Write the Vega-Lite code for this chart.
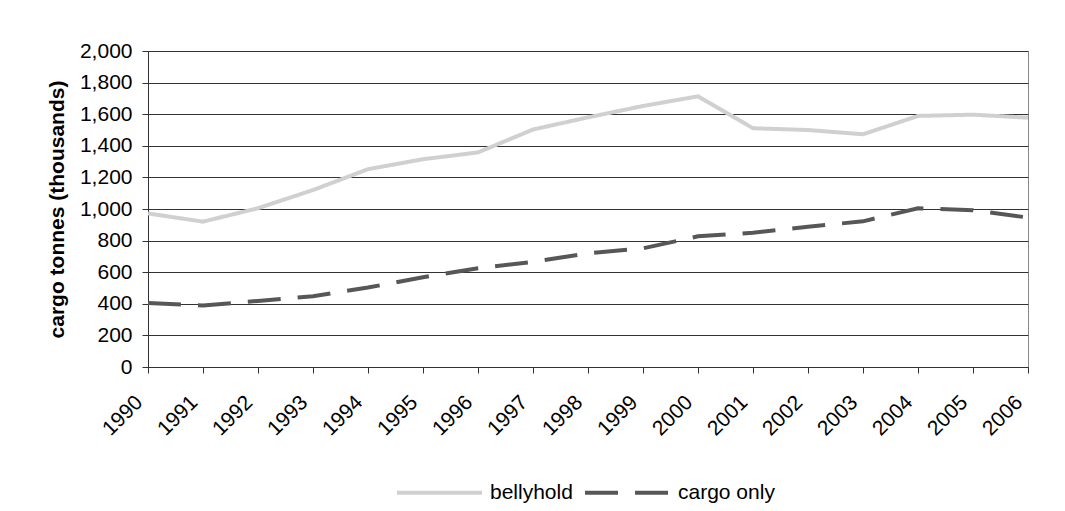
{
  "$schema": "https://vega.github.io/schema/vega-lite/v6.json",
  "width": 880,
  "height": 316,
  "autosize": "none",
  "padding": {"left": 148, "top": 51, "right": 37, "bottom": 144},
  "background": "white",
  "config": {
    "font": "Liberation Sans",
    "view": {"stroke": "#888888", "strokeWidth": 1},
    "axis": {
      "labelFont": "Liberation Sans",
      "titleFont": "Liberation Sans",
      "labelColor": "black",
      "titleColor": "black",
      "domainColor": "#333333",
      "tickColor": "#333333"
    }
  },
  "data": {
    "values": [
      {"year": "1990", "series": "bellyhold", "value": 972},
      {"year": "1991", "series": "bellyhold", "value": 920},
      {"year": "1992", "series": "bellyhold", "value": 1005},
      {"year": "1993", "series": "bellyhold", "value": 1120},
      {"year": "1994", "series": "bellyhold", "value": 1252},
      {"year": "1995", "series": "bellyhold", "value": 1315},
      {"year": "1996", "series": "bellyhold", "value": 1358},
      {"year": "1997", "series": "bellyhold", "value": 1503},
      {"year": "1998", "series": "bellyhold", "value": 1580},
      {"year": "1999", "series": "bellyhold", "value": 1652},
      {"year": "2000", "series": "bellyhold", "value": 1713},
      {"year": "2001", "series": "bellyhold", "value": 1511},
      {"year": "2002", "series": "bellyhold", "value": 1500},
      {"year": "2003", "series": "bellyhold", "value": 1473},
      {"year": "2004", "series": "bellyhold", "value": 1589},
      {"year": "2005", "series": "bellyhold", "value": 1597},
      {"year": "2006", "series": "bellyhold", "value": 1578},
      {"year": "1990", "series": "cargo only", "value": 405},
      {"year": "1991", "series": "cargo only", "value": 390},
      {"year": "1992", "series": "cargo only", "value": 418},
      {"year": "1993", "series": "cargo only", "value": 448},
      {"year": "1994", "series": "cargo only", "value": 503},
      {"year": "1995", "series": "cargo only", "value": 568},
      {"year": "1996", "series": "cargo only", "value": 625},
      {"year": "1997", "series": "cargo only", "value": 665},
      {"year": "1998", "series": "cargo only", "value": 720},
      {"year": "1999", "series": "cargo only", "value": 751},
      {"year": "2000", "series": "cargo only", "value": 827},
      {"year": "2001", "series": "cargo only", "value": 850},
      {"year": "2002", "series": "cargo only", "value": 888},
      {"year": "2003", "series": "cargo only", "value": 922},
      {"year": "2004", "series": "cargo only", "value": 1005},
      {"year": "2005", "series": "cargo only", "value": 992},
      {"year": "2006", "series": "cargo only", "value": 946}
    ]
  },
  "mark": {"type": "line", "strokeWidth": 4, "strokeCap": "butt"},
  "encoding": {
    "x": {
      "field": "year",
      "type": "ordinal",
      "scale": {"padding": 0},
      "axis": {
        "title": null,
        "labelAngle": -45,
        "labelAlign": "right",
        "labelBaseline": "middle",
        "labelFontSize": 21,
        "labelPadding": 26,
        "labelOffset": -9,
        "tickSize": 6,
        "grid": false
      }
    },
    "y": {
      "field": "value",
      "type": "quantitative",
      "scale": {"domain": [0, 2000]},
      "axis": {
        "title": "cargo tonnes (thousands)",
        "titleFontSize": 21,
        "titleFontWeight": "bold",
        "titlePadding": 12,
        "values": [0, 200, 400, 600, 800, 1000, 1200, 1400, 1600, 1800, 2000],
        "format": ",d",
        "labelFontSize": 21,
        "labelPadding": 10,
        "tickSize": 6,
        "gridColor": "#333333",
        "gridOpacity": 1
      }
    },
    "color": {
      "field": "series",
      "type": "nominal",
      "scale": {"domain": ["bellyhold", "cargo only"], "range": ["#d0d0d0", "#575757"]},
      "legend": {
        "title": null,
        "orient": "none",
        "legendX": 247,
        "legendY": 397,
        "direction": "horizontal",
        "labelFontSize": 21,
        "labelFont": "Liberation Sans",
        "labelColor": "black",
        "symbolType": "stroke",
        "symbolSize": 7225,
        "symbolStrokeWidth": 4,
        "labelOffset": 6,
        "columnPadding": 4
      }
    },
    "strokeDash": {
      "field": "series",
      "type": "nominal",
      "scale": {"domain": ["bellyhold", "cargo only"], "range": [[1, 0], [33, 17]]},
      "legend": null
    }
  }
}
